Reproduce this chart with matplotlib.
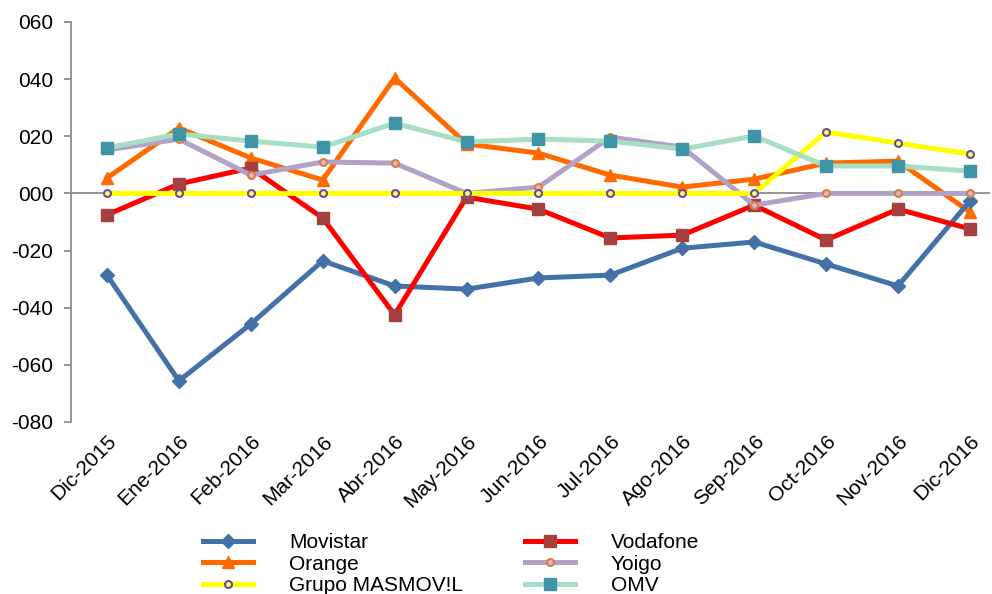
import matplotlib.pyplot as plt
from matplotlib.ticker import FuncFormatter

plt.rcParams['font.family'] = ['Liberation Sans', 'DejaVu Sans']

meses = ['Dic-2015', 'Ene-2016', 'Feb-2016', 'Mar-2016', 'Abr-2016', 'May-2016', 'Jun-2016',
         'Jul-2016', 'Ago-2016', 'Sep-2016', 'Oct-2016', 'Nov-2016', 'Dic-2016']

movistar = [-28.6, -65.6, -45.7, -23.6, -32.4, -33.5, -29.6, -28.6, -19.2, -17.0, -24.7, -32.4, -2.7]
vodafone = [-7.5, 3.3, 8.9, -8.6, -42.5, -1.3, -5.5, -15.6, -14.6, -4.1, -16.3, -5.5, -12.4]
orange = [5.4, 22.9, 12.4, 4.7, 40.4, 17.3, 14.1, 6.4, 2.2, 5.0, 10.6, 11.3, -6.5]
yoigo = [15.2, 19.0, 6.4, 11.0, 10.6, 0.0, 2.2, 19.7, 16.2, -4.1, 0.0, 0.0, 0.0]
masmovil = [0, 0, 0, 0, 0, 0, 0, 0, 0, 0, 21.5, 17.6, 13.8]
omv = [15.9, 20.8, 18.3, 16.2, 24.6, 18.0, 19.0, 18.3, 15.5, 20.1, 9.6, 9.6, 7.8]

fig = plt.figure(figsize=(9.92, 5.94), dpi=100)
ax = fig.add_axes([0.0716, 0.2896, 0.9264, 0.6734])
x = range(len(meses))
lw = 3.6
fs = 15

ax.axhline(0, color='#8c8c8c', lw=1.3, zorder=1)

h_mov, = ax.plot(x, movistar, color='#4472a8', lw=lw, marker='D', ms=7,
                 mfc='#4472a8', mec='#4472a8', label='Movistar', zorder=3)
h_vod, = ax.plot(x, vodafone, color='#ff0000', lw=lw, marker='s', ms=8,
                 mfc='#a5403f', mec='#a5403f', label='Vodafone', zorder=4)
h_ora, = ax.plot(x, orange, color='#ff6a00', lw=lw, marker='^', ms=8,
                 mfc='#ff6a00', mec='#ff6a00', label='Orange', zorder=2)
h_yoi, = ax.plot(x, yoigo, color='#b3a2c7', lw=lw, marker='o', ms=5,
                 mfc='#c9bcd9', mec='#e07b39', mew=1.5, label='Yoigo', zorder=5)
h_mas, = ax.plot(x, masmovil, color='#ffff00', lw=lw, marker='o', ms=5,
                 mfc='#ffff60', mec='#6a4c9c', mew=1.5, label='Grupo MASMOV!L', zorder=6)
h_omv, = ax.plot(x, omv, color='#a6dfc4', lw=lw, marker='s', ms=8,
                 mfc='#3f94a8', mec='#3f94a8', label='OMV', zorder=7)

ax.set_xlim(-0.5, 12.28)
ax.set_ylim(-80, 60)
ax.set_yticks(range(-80, 61, 20))
ax.yaxis.set_major_formatter(FuncFormatter(lambda v, p: ('-' if v < 0 else '') + f"{abs(int(v)):03d}"))
ax.set_xticks(list(x))
ax.set_xticklabels(meses, rotation=45, ha='right', va='top', rotation_mode='anchor')
ax.tick_params(axis='x', length=0, pad=7, labelsize=fs)
ax.tick_params(axis='y', direction='out', length=5, color='#8c8c8c', width=1.3, labelsize=fs, pad=8)

for s in ['top', 'right', 'bottom']:
    ax.spines[s].set_visible(False)
ax.spines['left'].set_color('#8c8c8c')
ax.spines['left'].set_linewidth(1.3)

fig.legend([h_mov, h_ora, h_mas, h_vod, h_yoi, h_omv],
           ['Movistar', 'Orange', 'Grupo MASMOV!L', 'Vodafone', 'Yoigo', 'OMV'],
           ncol=2, frameon=False, loc='upper left', bbox_to_anchor=(0.205, 0.103),
           borderpad=0, borderaxespad=0, fontsize=fs, handlelength=2.4,
           handletextpad=1.7, columnspacing=3.0, labelspacing=0.13)

fig.savefig('out.png', dpi=100)
